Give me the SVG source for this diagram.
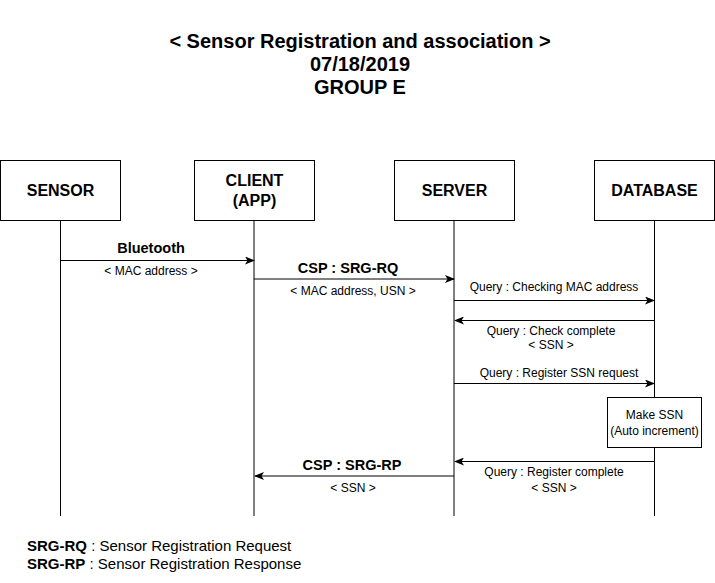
<svg xmlns="http://www.w3.org/2000/svg" width="715" height="583" viewBox="0 0 715 583">
<defs>
<marker id="ah" markerWidth="10" markerHeight="8" refX="9" refY="4" orient="auto" markerUnits="userSpaceOnUse">
<path d="M0,0 L10,4 L0,8 L2.5,4 Z" fill="#000"/>
</marker>
</defs>
<style>
text{font-family:"Liberation Sans",Arial,sans-serif;fill:#000}
.title{font-size:20px;font-weight:bold;text-anchor:middle}
.box{fill:#fff;stroke:#000;stroke-width:1}
.bl{font-size:16px;font-weight:bold;text-anchor:middle}
.life{stroke:#000;stroke-width:1;fill:none}
.msg{stroke:#000;stroke-width:1;fill:none;marker-end:url(#ah)}
.lab{font-size:12px;text-anchor:middle}
.blab{font-size:14.5px;font-weight:bold;text-anchor:middle}
.ft{font-size:15px}
</style>
<rect width="715" height="583" fill="#fff"/>
<g id="title">
<text class="title" x="360" y="48">&lt; Sensor Registration and association &gt;</text>
<text class="title" x="360" y="71">07/18/2019</text>
<text class="title" x="360" y="94">GROUP E</text>
</g>
<g id="lifelines">
<line class="life" x1="60.5" y1="220" x2="60.5" y2="516"/>
<line class="life" x1="254" y1="220" x2="254" y2="516"/>
<line class="life" x1="454" y1="220" x2="454" y2="516"/>
<line class="life" x1="654.5" y1="220" x2="654.5" y2="516"/>
</g>
<g id="sensor">
<rect class="box" x="0.5" y="160.5" width="120" height="60"/>
<text class="bl" x="60.5" y="196">SENSOR</text>
</g>
<g id="client">
<rect class="box" x="194.5" y="160.5" width="120" height="60"/>
<text class="bl" x="254.5" y="186">CLIENT</text>
<text class="bl" x="254.5" y="206">(APP)</text>
</g>
<g id="server">
<rect class="box" x="394.5" y="160.5" width="120" height="60"/>
<text class="bl" x="454.5" y="196">SERVER</text>
</g>
<g id="database">
<rect class="box" x="594.5" y="160.5" width="120" height="60"/>
<text class="bl" x="654.5" y="196">DATABASE</text>
</g>
<g id="makessn">
<rect class="box" x="607.5" y="397.5" width="94" height="50"/>
<text class="lab" x="654.5" y="419">Make SSN</text>
<text class="lab" x="654.5" y="435">(Auto increment)</text>
</g>
<g id="connectors">
<line class="msg" x1="60.5" y1="260.5" x2="254" y2="260.5"/>
<line class="msg" x1="254" y1="279" x2="454" y2="279"/>
<line class="msg" x1="454" y1="300.5" x2="654" y2="300.5"/>
<line class="msg" x1="654.5" y1="320.5" x2="455" y2="320.5"/>
<line class="msg" x1="454" y1="383.5" x2="654" y2="383.5"/>
<line class="msg" x1="654.5" y1="461.5" x2="455" y2="461.5"/>
<line class="msg" x1="454" y1="476" x2="255" y2="476"/>
</g>
<g id="labels">
<text class="blab" x="151" y="253">Bluetooth</text>
<text class="lab" x="151" y="275">&lt; MAC address &gt;</text>
<text class="blab" x="348" y="273">CSP : SRG-RQ</text>
<text class="lab" x="353" y="295">&lt; MAC address, USN &gt;</text>
<text class="lab" x="554" y="291">Query : Checking MAC address</text>
<text class="lab" x="551" y="335">Query : Check complete</text>
<text class="lab" x="551" y="349">&lt; SSN &gt;</text>
<text class="lab" x="559" y="377">Query : Register SSN request</text>
<text class="lab" x="554" y="476">Query : Register complete</text>
<text class="lab" x="554" y="492">&lt; SSN &gt;</text>
<text class="blab" x="352" y="470">CSP : SRG-RP</text>
<text class="lab" x="353" y="492">&lt; SSN &gt;</text>
</g>
<g id="legend">
<text class="ft" x="27" y="551"><tspan font-weight="bold">SRG-RQ</tspan> : Sensor Registration Request</text>
<text class="ft" x="27" y="569"><tspan font-weight="bold">SRG-RP</tspan> : Sensor Registration Response</text>
</g>
</svg>
